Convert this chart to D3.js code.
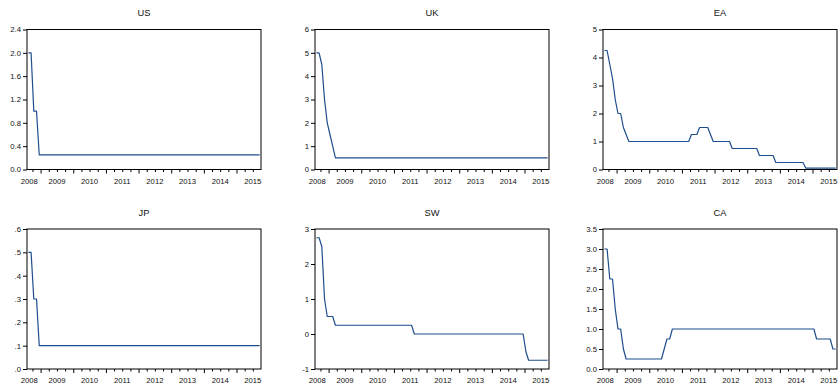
<!DOCTYPE html>
<html>
<head>
<meta charset="utf-8">
<script src="https://cdn.jsdelivr.net/npm/d3@7"></script>
<style>
  body { margin: 0; background: #fff; }
  svg { display: block; }
  text { font-family: "Liberation Sans", Arial, sans-serif; }
</style>
</head>
<body>
<svg id="chart" width="840" height="384"></svg>
<script>
// Monthly policy rates, 2008M08 .. 2015M09 (86 observations)
const firstYear = 2008;
const firstMonth = 8;
const years = ["2008", "2009", "2010", "2011", "2012", "2013", "2014", "2015"];

const us = [2.0, 2.0, 1.0, 1.0,
  0.25, 0.25, 0.25, 0.25, 0.25, 0.25, 0.25, 0.25, 0.25, 0.25, 0.25, 0.25, 0.25,
  0.25, 0.25, 0.25, 0.25, 0.25, 0.25, 0.25, 0.25, 0.25, 0.25, 0.25, 0.25,
  0.25, 0.25, 0.25, 0.25, 0.25, 0.25, 0.25, 0.25, 0.25, 0.25, 0.25, 0.25,
  0.25, 0.25, 0.25, 0.25, 0.25, 0.25, 0.25, 0.25, 0.25, 0.25, 0.25, 0.25,
  0.25, 0.25, 0.25, 0.25, 0.25, 0.25, 0.25, 0.25, 0.25, 0.25, 0.25, 0.25,
  0.25, 0.25, 0.25, 0.25, 0.25, 0.25, 0.25, 0.25, 0.25, 0.25, 0.25, 0.25,
  0.25, 0.25, 0.25, 0.25, 0.25, 0.25, 0.25, 0.25, 0.25];

const uk = [5.0, 5.0, 4.5, 3.0, 2.0, 1.5, 1.0,
  0.5, 0.5, 0.5, 0.5, 0.5, 0.5, 0.5, 0.5, 0.5, 0.5,
  0.5, 0.5, 0.5, 0.5, 0.5, 0.5, 0.5, 0.5, 0.5, 0.5, 0.5, 0.5,
  0.5, 0.5, 0.5, 0.5, 0.5, 0.5, 0.5, 0.5, 0.5, 0.5, 0.5, 0.5,
  0.5, 0.5, 0.5, 0.5, 0.5, 0.5, 0.5, 0.5, 0.5, 0.5, 0.5, 0.5,
  0.5, 0.5, 0.5, 0.5, 0.5, 0.5, 0.5, 0.5, 0.5, 0.5, 0.5, 0.5,
  0.5, 0.5, 0.5, 0.5, 0.5, 0.5, 0.5, 0.5, 0.5, 0.5, 0.5, 0.5,
  0.5, 0.5, 0.5, 0.5, 0.5, 0.5, 0.5, 0.5, 0.5];

const ea = [4.25, 4.25, 3.75, 3.25, 2.5,
  2.0, 2.0, 1.5, 1.25, 1.0, 1.0, 1.0, 1.0, 1.0, 1.0, 1.0, 1.0,
  1.0, 1.0, 1.0, 1.0, 1.0, 1.0, 1.0, 1.0, 1.0, 1.0, 1.0, 1.0,
  1.0, 1.0, 1.0, 1.25, 1.25, 1.25, 1.5, 1.5, 1.5, 1.5, 1.25, 1.0,
  1.0, 1.0, 1.0, 1.0, 1.0, 1.0, 0.75, 0.75, 0.75, 0.75, 0.75, 0.75,
  0.75, 0.75, 0.75, 0.75, 0.5, 0.5, 0.5, 0.5, 0.5, 0.5, 0.25, 0.25,
  0.25, 0.25, 0.25, 0.25, 0.25, 0.25, 0.25, 0.25, 0.25, 0.05, 0.05, 0.05,
  0.05, 0.05, 0.05, 0.05, 0.05, 0.05, 0.05, 0.05, 0.05];

const jp = [0.5, 0.5, 0.3, 0.3,
  0.1, 0.1, 0.1, 0.1, 0.1, 0.1, 0.1, 0.1, 0.1, 0.1, 0.1, 0.1, 0.1,
  0.1, 0.1, 0.1, 0.1, 0.1, 0.1, 0.1, 0.1, 0.1, 0.1, 0.1, 0.1,
  0.1, 0.1, 0.1, 0.1, 0.1, 0.1, 0.1, 0.1, 0.1, 0.1, 0.1, 0.1,
  0.1, 0.1, 0.1, 0.1, 0.1, 0.1, 0.1, 0.1, 0.1, 0.1, 0.1, 0.1,
  0.1, 0.1, 0.1, 0.1, 0.1, 0.1, 0.1, 0.1, 0.1, 0.1, 0.1, 0.1,
  0.1, 0.1, 0.1, 0.1, 0.1, 0.1, 0.1, 0.1, 0.1, 0.1, 0.1, 0.1,
  0.1, 0.1, 0.1, 0.1, 0.1, 0.1, 0.1, 0.1, 0.1];

const sw = [2.75, 2.75, 2.5, 1.0, 0.5,
  0.5, 0.5, 0.25, 0.25, 0.25, 0.25, 0.25, 0.25, 0.25, 0.25, 0.25, 0.25,
  0.25, 0.25, 0.25, 0.25, 0.25, 0.25, 0.25, 0.25, 0.25, 0.25, 0.25, 0.25,
  0.25, 0.25, 0.25, 0.25, 0.25, 0.25, 0.25, 0, 0, 0, 0, 0,
  0, 0, 0, 0, 0, 0, 0, 0, 0, 0, 0, 0,
  0, 0, 0, 0, 0, 0, 0, 0, 0, 0, 0, 0,
  0, 0, 0, 0, 0, 0, 0, 0, 0, 0, 0, 0,
  -0.5, -0.75, -0.75, -0.75, -0.75, -0.75, -0.75, -0.75, -0.75];

const ca = [3.0, 3.0, 2.25, 2.25, 1.5,
  1.0, 1.0, 0.5, 0.25, 0.25, 0.25, 0.25, 0.25, 0.25, 0.25, 0.25, 0.25,
  0.25, 0.25, 0.25, 0.25, 0.25, 0.5, 0.75, 0.75, 1.0, 1.0, 1.0, 1.0,
  1.0, 1.0, 1.0, 1.0, 1.0, 1.0, 1.0, 1.0, 1.0, 1.0, 1.0, 1.0,
  1.0, 1.0, 1.0, 1.0, 1.0, 1.0, 1.0, 1.0, 1.0, 1.0, 1.0, 1.0,
  1.0, 1.0, 1.0, 1.0, 1.0, 1.0, 1.0, 1.0, 1.0, 1.0, 1.0, 1.0,
  1.0, 1.0, 1.0, 1.0, 1.0, 1.0, 1.0, 1.0, 1.0, 1.0, 1.0, 1.0,
  1.0, 0.75, 0.75, 0.75, 0.75, 0.75, 0.75, 0.5, 0.5];

const usTicks = [0, 0.4, 0.8, 1.2, 1.6, 2.0, 2.4];
const ukTicks = [0, 1, 2, 3, 4, 5, 6];
const eaTicks = [0, 1, 2, 3, 4, 5];
const jpTicks = [0, 0.1, 0.2, 0.3, 0.4, 0.5, 0.6];
const swTicks = [-1, 0, 1, 2, 3];
const caTicks = [0, 0.5, 1.0, 1.5, 2.0, 2.5, 3.0, 3.5];

const titles = ["US", "UK", "EA", "JP", "SW", "CA"];

// formatters: one decimal, integers, and decimals without the leading zero
const f1 = d => d3.format(".1f")(d);
const fInt = d => String(d);
const fNoLead = d => d3.format(".1f")(d).replace(/^0/, "");

const panels = [
  { title: titles[0], values: us, ticks: usTicks, fmt: f1 },
  { title: titles[1], values: uk, ticks: ukTicks, fmt: fInt },
  { title: titles[2], values: ea, ticks: eaTicks, fmt: fInt },
  { title: titles[3], values: jp, ticks: jpTicks, fmt: fNoLead },
  { title: titles[4], values: sw, ticks: swTicks, fmt: fInt },
  { title: titles[5], values: ca, ticks: caTicks, fmt: f1 }
];

// layout
const colLeft = [27, 315, 603];
const rowTop = [29.5, 229];
const plotW = 234, plotH = 140;
const lineColor = "#1f4e8e";
const textColor = "#111";
const tickFont = 7.7, titleFont = 9.3;

const svg = d3.select("#chart");

panels.forEach((p, k) => {
  const left = colLeft[k % 3], top = rowTop[Math.floor(k / 3)];
  const n = p.values.length;
  const g = svg.append("g").attr("transform", `translate(${left},${top})`);

  const x = d3.scaleLinear().domain([0, n]).range([0, plotW]);
  const y = d3.scaleLinear().domain(d3.extent(p.ticks)).range([plotH, 0]);

  // year boundaries and quarterly minor ticks (index of each January)
  const janIdx = years.map(yr => (+yr - firstYear) * 12 - (firstMonth - 1));
  const major = janIdx.filter(v => v > 0 && v < n);
  const minor = [];
  janIdx.forEach(j => [3, 6, 9].forEach(m => { if (j + m > 0 && j + m < n) minor.push(j + m); }));

  // x axis ticks
  g.append("g").attr("transform", `translate(0,${plotH})`)
    .call(d3.axisBottom(x).tickValues(minor).tickSize(2.5).tickFormat(""))
    .call(a => a.select(".domain").remove())
    .call(a => a.selectAll("line").attr("stroke", "#000"));
  g.append("g").attr("transform", `translate(0,${plotH})`)
    .call(d3.axisBottom(x).tickValues(major).tickSize(4).tickFormat(""))
    .call(a => a.select(".domain").remove())
    .call(a => a.selectAll("line").attr("stroke", "#000"));

  // year labels centred on each year
  g.append("g").selectAll("text").data(years).join("text")
    .attr("x", (d, i) => x(Math.max(janIdx[i] + 6, 0.8)))
    .attr("y", plotH + 14)
    .attr("text-anchor", "middle")
    .attr("font-size", tickFont)
    .attr("fill", textColor)
    .text(d => d);

  // y axis
  g.append("g")
    .call(d3.axisLeft(y).tickValues(p.ticks).tickSize(4).tickPadding(2).tickFormat(p.fmt))
    .call(a => a.select(".domain").remove())
    .call(a => a.selectAll("line").attr("stroke", "#000"))
    .call(a => a.selectAll("text").attr("font-size", tickFont).attr("font-family", null).attr("fill", textColor));

  // series
  g.append("path")
    .datum(p.values)
    .attr("fill", "none")
    .attr("stroke", lineColor)
    .attr("stroke-width", 1.2)
    .attr("stroke-linejoin", "round")
    .attr("d", d3.line().x((d, i) => x(i + 0.5)).y(d => y(d)));

  // frame
  g.append("rect")
    .attr("x", 0).attr("y", 0).attr("width", plotW).attr("height", plotH)
    .attr("fill", "none").attr("stroke", "#000").attr("stroke-width", 1);

  // title
  g.append("text")
    .attr("x", plotW / 2).attr("y", -13.5)
    .attr("text-anchor", "middle")
    .attr("font-size", titleFont)
    .attr("fill", textColor)
    .text(p.title);
});
</script>
</body>
</html>
